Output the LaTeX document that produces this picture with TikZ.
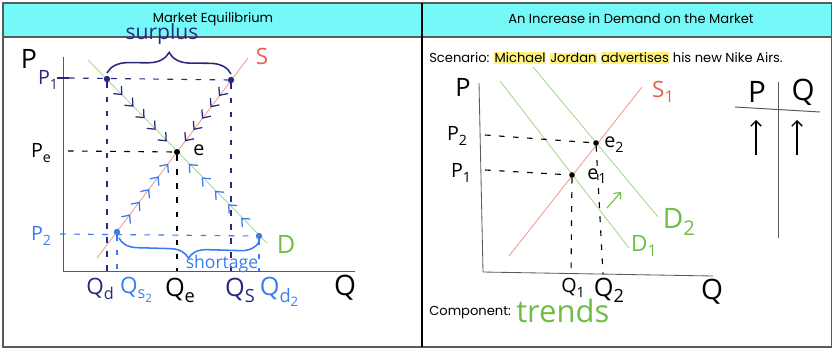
\documentclass[tikz,border=0pt]{standalone}
\usepackage{fontspec}
\setmainfont{Poppins}
\newfontfamily\hand{Open Sans}
\usetikzlibrary{arrows.meta,positioning,calc,decorations.pathreplacing,decorations.markings}
\definecolor{headcyan}{HTML}{75F8F8}
\definecolor{frame}{HTML}{5A5A5A}
\definecolor{navy}{HTML}{28287F}
\definecolor{skyb}{HTML}{3A7BF2}
\definecolor{grn}{HTML}{6EBE46}
\definecolor{grnl}{HTML}{A6D68E}
\definecolor{redt}{HTML}{E8604C}
\definecolor{redl}{HTML}{F09A8E}
\definecolor{hly}{HTML}{FFF27A}
\newcommand{\hlt}[1]{{\setlength{\fboxsep}{0.4pt}\colorbox{hly}{#1}}}
\newcommand{\lo}[1]{\raisebox{-0.45ex}{\scalebox{0.72}{#1}}}
\tikzset{
  head/.style={font=\fontsize{9.3}{11}\selectfont,inner sep=0pt},
  body/.style={font=\fontsize{9.3}{11}\selectfont,inner sep=0pt},
  lbl/.style={font=\hand\fontsize{14}{15}\selectfont,inner sep=0pt},
  big/.style={font=\hand\fontsize{18}{19}\selectfont,inner sep=0pt},
  axis/.style={draw=frame,line width=0.6pt},
  supply/.style={draw=redl,line width=0.6pt},
  demand/.style={draw=grnl,line width=0.6pt},
  guide/.style={line width=0.8pt,dash pattern=on 4pt off 6pt},
  dot/.style={circle,fill,inner sep=0pt,minimum size=1.6mm},
  brc/.style={line width=1.1pt,decorate,decoration={brace,amplitude=15pt}},
  chev/.style={postaction={decorate},decoration={markings,
    mark=between positions 0.2 and 0.92 step 0.17 with
    {\arrow{Straight Barb[color=#1,length=1.6mm,width=2.8mm,line width=0.9pt]}}}}
}

\begin{document}
\begin{tikzpicture}[x=0.025cm,y=-0.025cm]
  \useasboundingbox (0,0) rectangle (832,350);
  % table frame
  \fill[headcyan] (3,3) rectangle (832,37);
  \draw[frame,line width=1pt] (3,3) rectangle (832,347);
  \draw[frame,line width=1pt] (3,37) -- (832,37);
  \draw[black,line width=0.8pt] (422,3) -- (422,347);
  \node[head] (t1) at (213,19) {Market Equilibrium};
  \node[head] (t2) at (631,19) {An Increase in Demand on the Market};

  % --- market equilibrium graph
  \coordinate (o) at (63,271);
  \coordinate (ptop) at (63,57);
  \coordinate (qend) at (355,271);
  \draw[axis] (ptop) -- (o) -- (qend);
  \coordinate (sLo) at (97,258);
  \coordinate (sHi) at (248,58);
  \coordinate (dLo) at (88,60);
  \coordinate (dHi) at (267,243);
  \draw[supply] (sLo) -- (sHi);
  \draw[demand] (dLo) -- (dHi);
  \node[dot,navy] (dP1) at (107,79) {};
  \node[dot,navy] (sP1) at (231,80) {};
  \node[dot,black,minimum size=1.5mm] (eq) at (177,152) {};
  \node[dot,skyb] (sP2) at (117,232) {};
  \node[dot,skyb] (dP2) at (259,236) {};
  \node[big,font=\hand\fontsize{19}{20}\selectfont] (pax) at (29,59) {P};
  \node[lbl,text=navy] (pl1) at (48,80) {P\lo{1}};
  \node[lbl] (ple) at (41,153) {P\lo{e}};
  \node[lbl,text=skyb] (pl2) at (41,236) {P\lo{2}};
  \node[lbl,text=redt,font=\hand\fontsize{16}{17}\selectfont] (slab) at (262,56) {S};
  \node[big,text=grn] (dlab) at (286,244) {D};
  \node[lbl,anchor=west] (elab) at (193,150) {e};
  % guides
  \draw[navy,line width=0.9pt] (57,78) -- (69,78);
  \draw[navy,guide] (69,78) -- (sP1);
  \draw[navy,guide] (dP1) -- (dP1 |- o);
  \draw[navy,guide] (sP1) -- (sP1 |- o);
  \draw[black,guide] (68,151) -- (eq);
  \draw[black,guide] (eq) -- (eq |- o);
  \draw[skyb,guide] (60,234) -- (dP2);
  \draw[skyb,guide] (sP2) -- (sP2 |- o);
  \draw[skyb,guide] (dP2) -- (dP2 |- o);
  % chevrons toward e
  \path[chev=navy] (dP1) -- (eq);
  \path[chev=navy] (sP1) -- (eq);
  \path[chev=skyb] (sP2) -- (eq);
  \path[chev=skyb] (dP2) -- (eq);
  % braces
  \draw[navy,brc] ($(dP1)+(0,-6)$) -- ($(sP1)+(0,-6)$);
  \node[lbl,text=navy,font=\hand\fontsize{15}{16}\selectfont] (sur) at (162,34) {surplus};
  \draw[skyb,brc,decoration={amplitude=13pt}] ($(dP2)+(0,6)$) -- ($(sP2)+(2,6)$);
  \node[lbl,text=skyb,font=\hand\fontsize{12.5}{13}\selectfont] (sho) at (222,264) {shortage};
  % quantity labels
  \node[big,text=navy,font=\hand\fontsize{16}{17}\selectfont] (qd) at (100,289) {Q\lo{d}};
  \node[big,text=skyb,font=\hand\fontsize{16}{17}\selectfont] (qs2) at (136,290) {Q\lo{s\lo{2}}};
  \node[big] (qe) at (180,290) {Q\lo{e}};
  \node[big,text=navy] (qs) at (240,290) {Q\lo{S}};
  \node[big,text=skyb] (qd2) at (279,292) {Q\lo{d\lo{2}}};
  \node[big,font=\hand\fontsize{20}{21}\selectfont] (qax) at (345,288) {Q};

  % --- increase in demand
  \node[body,anchor=west] (scen) at (429,58)
    {Scenario: \hlt{Michael} \hlt{Jordan} \hlt{advertises} his new Nike Airs.};
  \coordinate (o2) at (483,272);
  \coordinate (ptop2) at (479,83);
  \coordinate (qend2) at (713,276);
  \draw[axis] (ptop2) -- (o2) -- (qend2);
  \coordinate (s1Lo) at (509,256);
  \coordinate (s1Hi) at (642,87);
  \coordinate (d1Hi) at (500,81);
  \coordinate (d1Lo) at (629,248);
  \coordinate (d2Hi) at (533,67);
  \coordinate (d2Lo) at (658,217);
  \draw[supply] (s1Lo) -- (s1Hi);
  \draw[demand] (d1Hi) -- (d1Lo);
  \draw[demand] (d2Hi) -- (d2Lo);
  \node[dot,black,minimum size=1.4mm] (e1) at (572,175) {};
  \node[dot,black,minimum size=1.4mm] (e2) at (596,143) {};
  \draw[black,guide] (485,135) -- (e2);
  \draw[black,guide] (485,170) -- (e1);
  \draw[black,guide] (e1) -- (571,273);
  \draw[black,guide] (e2) -- (603,274);
  \node[big] (pax2) at (463,87) {P};
  \node[lbl] (pr2) at (457,136) {P\lo{2}};
  \node[lbl] (pr1) at (461,173) {P\lo{1}};
  \node[lbl,anchor=west] (e1lab) at (587,176) {e\lo{1}};
  \node[lbl,anchor=west] (e2lab) at (604,145) {e\lo{2}};
  \node[lbl,text=redt,font=\hand\fontsize{16}{17}\selectfont] (s1lab) at (663,92) {S\lo{1}};
  \node[lbl,text=grn,font=\hand\fontsize{16}{17}\selectfont] (d1lab) at (644,246) {D\lo{1}};
  \node[big,text=grn,font=\hand\fontsize{20}{21}\selectfont] (d2lab) at (679,222) {D\lo{2}};
  \coordinate (shA) at (607,208);
  \coordinate (shB) at (621,192);
  \draw[grn,line width=0.8pt,-{Straight Barb[length=1.3mm,width=2.4mm]}] (shA) -- (shB);
  \node[lbl] (q1) at (573,288) {Q\lo{1}};
  \node[big] (q2) at (609,290) {Q\lo{2}};
  \node[big,font=\hand\fontsize{20}{21}\selectfont] (qax2) at (712,292) {Q};
  \node[body,anchor=west] (comp) at (429,313) {Component:};
  \node[big,text=grn,anchor=west,font=\hand\fontsize{22}{23}\selectfont] (trend) at (516,311) {trends};
  % P | Q table
  \node[big,font=\hand\fontsize{21}{22}\selectfont] (tp) at (757,92) {P};
  \node[big,font=\hand\fontsize{21}{22}\selectfont] (tq) at (803,92) {Q};
  \draw[frame,line width=0.7pt] (735,107) -- (820,112);
  \draw[frame,line width=0.7pt] (778,82) -- (778,238);
  \coordinate (upPa) at (756,155);
  \coordinate (upPb) at (756,120);
  \coordinate (upQa) at (797,155);
  \coordinate (upQb) at (797,120);
  \draw[black,line width=0.9pt,-{Straight Barb[length=1.3mm,width=2.6mm]}] (upPa) -- (upPb);
  \draw[black,line width=0.9pt,-{Straight Barb[length=1.3mm,width=2.6mm]}] (upQa) -- (upQb);
\end{tikzpicture}
\end{document}
